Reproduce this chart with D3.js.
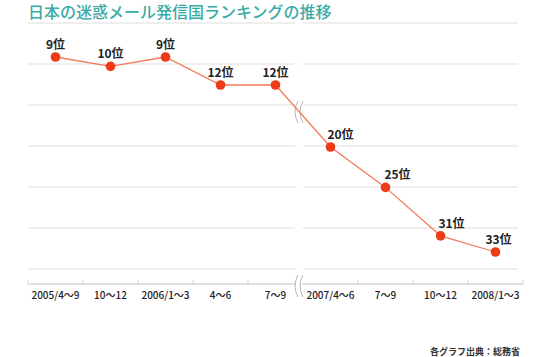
<!DOCTYPE html>
<html><head><meta charset="utf-8">
<script src="https://cdn.jsdelivr.net/npm/d3@7/dist/d3.min.js"></script>
<style>
html,body{margin:0;padding:0;background:#fff;}
svg{display:block;font-family:"Noto Sans CJK JP","Noto Sans",sans-serif;}
</style></head>
<body>
<svg id="c" width="550" height="357"></svg>
<script>
const title = "日本の迷惑メール発信国ランキングの推移";
const categories = ["2005/4～9","10～12","2006/1～3","4～6","7～9","2007/4～6","7～9 ","10～12 ","2008/1～3"];
const ranks = [9,10,9,12,12,20,25,31,33];
const rankLabels = ranks.map(r => r + "位");
const source = "各グラフ出典：総務省";

const svg = d3.select("#c");
const x = d3.scaleBand().domain(categories).range([28, 523]);
// broken (piecewise) rank scale
const y = d3.scaleLinear().domain([9, 12, 20, 33]).range([57, 85, 147, 252]);

const breakX = 299;
const gridYs = d3.range(7).map(i => 23 + 41 * i);
const g = svg.append("g");

gridYs.forEach(gy => {
  g.append("line").attr("x1", 28).attr("x2", breakX - 4).attr("y1", gy).attr("y2", gy)
    .attr("stroke", "#dedede").attr("stroke-width", 1);
  g.append("line").attr("x1", breakX + 4).attr("x2", 518).attr("y1", gy).attr("y2", gy)
    .attr("stroke", "#dedede").attr("stroke-width", 1);
});

svg.append("text").attr("x", 28).attr("y", 18).attr("font-size", 16).attr("font-weight", 500)
  .attr("fill", "#3aaba7").text(title);

const axisY = 284;
const axis = svg.append("g").attr("transform", `translate(0,${axisY})`)
  .call(d3.axisBottom(x).tickSize(0).tickPadding(8));
axis.select(".domain").remove();
axis.selectAll("text").attr("font-size", 10).attr("fill", "#222").attr("font-weight", 500)
  .attr("font-family", "'Noto Sans CJK JP',sans-serif").text(d => d.trim());
svg.append("line").attr("x1", 28).attr("x2", breakX - 3).attr("y1", axisY).attr("y2", axisY)
  .attr("stroke", "#cfd8d8").attr("stroke-width", 1.5);
svg.append("line").attr("x1", breakX + 3).attr("x2", 523).attr("y1", axisY).attr("y2", axisY)
  .attr("stroke", "#cfd8d8").attr("stroke-width", 1.5);
const bounds = categories.map(c => x(c)).concat([x.range()[1]]).filter((b, i) => i !== 5);
svg.selectAll(".tk").data(bounds).enter().append("line")
  .attr("x1", d => d).attr("x2", d => d).attr("y1", axisY - 4).attr("y2", axisY)
  .attr("stroke", "#cfd8d8").attr("stroke-width", 1);

function breakMark(cx, cy) {
  [-3, 2].forEach(dx => {
    svg.append("path")
      .attr("d", `M${cx + dx + 2},${cy - 11} Q${cx + dx - 4},${cy} ${cx + dx + 2},${cy + 11}`)
      .attr("fill", "none").attr("stroke", "#b5b5b5").attr("stroke-width", 1);
  });
}
breakMark(breakX, 112);
breakMark(breakX, 286);

const line = d3.line().x((d, i) => x(categories[i]) + x.bandwidth() / 2).y(d => y(d));
svg.append("path").datum(ranks).attr("d", line)
  .attr("fill", "none").attr("stroke", "#f47a5a").attr("stroke-width", 1.3);

svg.selectAll(".dot").data(ranks).enter().append("circle")
  .attr("cx", (d, i) => x(categories[i]) + x.bandwidth() / 2)
  .attr("cy", d => y(d)).attr("r", 4.8).attr("fill", "#ec3b16");

const labelDx = [0, 0, 0, 0, 0, 10, 12, 11, 3];
svg.selectAll(".lbl").data(ranks).enter().append("text")
  .attr("x", (d, i) => x(categories[i]) + x.bandwidth() / 2 + labelDx[i])
  .attr("y", d => y(d) - 8)
  .attr("text-anchor", "middle").attr("font-size", 12).attr("font-weight", "bold")
  .attr("fill", "#222").text((d, i) => rankLabels[i]);

svg.append("text").attr("x", 520).attr("y", 355).attr("text-anchor", "end")
  .attr("font-size", 9).attr("font-weight", "bold").attr("fill", "#333").text(source);
</script>
</body></html>
